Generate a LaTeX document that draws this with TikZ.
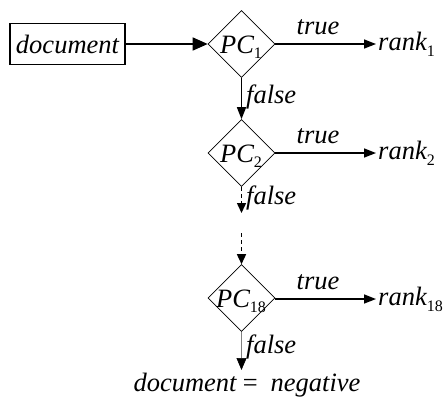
\documentclass[tikz,border=0pt]{standalone}
\usepackage{fontspec}
\setmainfont{Liberation Serif}
\newfontfamily\tnr{Liberation Serif}
\usetikzlibrary{shapes.geometric,arrows.meta}
\newcommand{\subnum}[1]{\raisebox{-0.22em}{\fontsize{16}{16}\selectfont\upshape #1}}
\begin{document}
\begin{tikzpicture}[x=1pt,y=-1pt,
  every node/.style={font=\tnr\fontsize{26.5}{26.5}\selectfont\itshape},
  docbox/.style={draw,line width=1.4pt,minimum width=115pt,minimum height=41pt,inner sep=0pt},
  pcbox/.style={draw,diamond,line width=0.6pt,inner sep=0pt,minimum size=67pt},
  arr/.style={line width=1.5pt,-{Triangle[length=12pt,width=9pt]}},
  bigarr/.style={line width=1.5pt,-{Triangle[length=15pt,width=13pt]}},
  dasharr/.style={line width=1.5pt,dash pattern=on 4pt off 3pt,-{Triangle[length=10pt,width=9pt]}},
  grayarr/.style={line width=0.7pt,draw=gray,-{Triangle[length=12pt,width=10pt,color=black,fill=black]}},
  lab/.style={anchor=base,inner sep=0pt}]
\useasboundingbox (0,0) rectangle (446,400);
\node[docbox] (doc) at (67.5,44) {document};
\node[pcbox] (pc1) at (241.5,44) {};
\node[pcbox] (pc2) at (241.5,153) {};
\node[pcbox] (pc3) at (241.5,298) {};
\node[lab] (t1) at (241,53) {PC\subnum{1}};
\node[lab] (t2) at (241,162) {PC\subnum{2}};
\node[lab] (t3) at (241,307) {PC\subnum{18}};
\node[anchor=west,inner sep=2pt] (r1) at (376,44) {rank\subnum{1}};
\node[anchor=west,inner sep=2pt] (r2) at (376,153) {rank\subnum{2}};
\node[anchor=west,inner sep=2pt] (r3) at (376,299) {rank\subnum{18}};
\coordinate (d1) at (241.5,213);
\coordinate (d2) at (241.5,233);
\coordinate (e) at (241.5,370);
\draw[bigarr] (doc.east) -- (pc1.west);
\draw[arr] (pc1.east) -- (r1.west);
\draw[arr] (pc2.east |- r2.west) -- (r2.west);
\draw[arr] (pc3.east |- r3.west) -- (r3.west);
\draw[arr] (pc1.south) -- (pc2.north);
\draw[dasharr] (pc2.south) -- (d1);
\draw[dasharr] (d2) -- (pc3.north);
\draw[grayarr] (pc3.south) -- (e);
\node[lab] (tr1) at (318,34) {true};
\node[lab] (tr2) at (318,143) {true};
\node[lab] (tr3) at (318,289) {true};
\node[lab,anchor=base west] (f1) at (246,103) {false};
\node[lab,anchor=base west] (f2) at (246,204) {false};
\node[lab,anchor=base west] (f3) at (246,353) {false};
\node[lab] (neg) at (247,391) {document\,=\;\,negative};
\end{tikzpicture}
\end{document}
